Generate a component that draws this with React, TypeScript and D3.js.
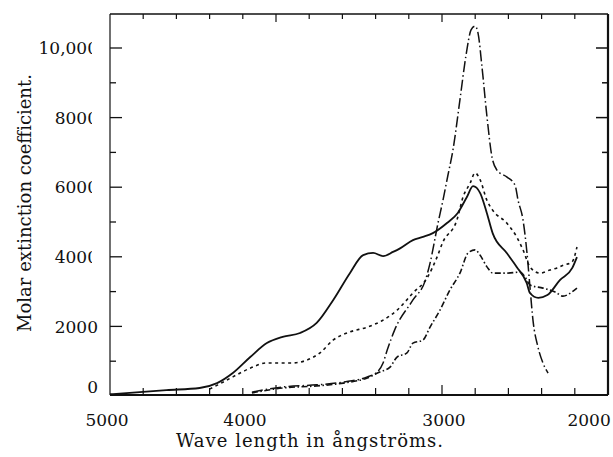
import React, { useRef, useEffect } from "react";
import * as d3 from "d3";

// [wavelength (Å), molar extinction coefficient]
const solidCurve = [
  [5000, 50], [4660, 170], [4460, 230], [4355, 370], [4260, 660], [4155, 1120],
  [4055, 1520], [3960, 1700], [3855, 1810], [3755, 2100], [3655, 2760], [3555, 3530],
  [3475, 4050], [3415, 4110], [3355, 4020], [3295, 4140], [3250, 4250], [3175, 4480],
  [3115, 4570], [3055, 4680], [2970, 4970], [2905, 5260], [2850, 5720], [2813, 6030],
  [2770, 5830], [2730, 5260], [2695, 4680], [2610, 4110], [2550, 3710], [2490, 3250],
  [2470, 2960], [2420, 2820], [2365, 2900], [2290, 3330], [2215, 3680], [2187, 3990],
];

const dottedCurve = [
  [4400, 200], [4350, 320], [4260, 550], [4155, 800], [4055, 950], [3900, 950],
  [3815, 1030], [3735, 1240], [3655, 1610], [3555, 1840], [3450, 1980], [3355, 2180],
  [3270, 2470], [3175, 2960], [3090, 3390], [3030, 3990], [2995, 4420], [2910, 5060],
  [2873, 5720], [2830, 6120], [2801, 6410], [2770, 6210], [2730, 5630], [2695, 5340],
  [2610, 4970], [2550, 4570], [2512, 4200], [2470, 3710], [2410, 3530], [2350, 3620],
  [2307, 3680], [2270, 3760], [2217, 3850], [2187, 4280],
];

const dashDotCurve = [
  [4145, 110], [3960, 260], [3755, 320], [3595, 400], [3450, 550], [3390, 690],
  [3355, 950], [3330, 1320], [3285, 1900], [3175, 2760], [3100, 3330], [3072, 3820],
  [3024, 4970], [2994, 5630], [2964, 6350], [2934, 7070], [2892, 8510], [2855, 9800],
  [2825, 10520], [2801, 10630], [2783, 10430], [2759, 9450], [2729, 8020], [2699, 6870],
  [2669, 6490], [2608, 6290], [2560, 6060], [2542, 5630], [2512, 5060], [2488, 4110],
  [2470, 3130], [2452, 2180], [2422, 1410], [2392, 950], [2361, 660],
];

const lowerCurve = [
  [4145, 90], [3960, 230], [3755, 290], [3595, 370], [3450, 520], [3375, 690],
  [3313, 830], [3271, 1120], [3211, 1240], [3175, 1520], [3114, 1610], [3072, 1980],
  [3012, 2470], [2952, 3050], [2892, 3530], [2843, 4110], [2801, 4200], [2771, 4050],
  [2729, 3710], [2693, 3530], [2608, 3530], [2530, 3560], [2500, 3420], [2470, 3190],
  [2392, 3100], [2319, 2990], [2271, 2870], [2217, 2990], [2187, 3100],
];

const xTickLabels = ["5000", "4000", "3000", "2000"];
const xLabelAt = [5018, 4187, 2988, 2114];
const yTickLabels = ["0", "2000", "4000", "6000", "8000", "10,000"];
const yLabelAt = [250, 2000, 4000, 6000, 8000, 10000];

const series = [
  { data: solidCurve, dash: null, width: 1.8 },
  { data: dottedCurve, dash: "3,3.5", width: 1.6 },
  { data: dashDotCurve, dash: "11,3,1.5,3", width: 1.5 },
  { data: lowerCurve, dash: "6,2.5,1.5,2.5", width: 1.6 },
];

const App = () => {
  const svgRef = useRef<SVGSVGElement>(null);

  useEffect(() => {
    const svg = d3.select(svgRef.current);
    svg.selectAll("*").remove();

    const width = 613;
    const height = 457;
    const left = 110, right = 608, top = 14, bottom = 395;
    const font = "'DejaVu Serif', serif";

    svg.attr("width", width).attr("height", height);

    const x = d3.scaleLinear().domain([5000, 2000]).range([left, right]);
    const y = d3.scaleLinear().domain([0, 10000]).range([396, 48]);

    // frame
    const frame = svg.append("g").attr("stroke", "#111").attr("fill", "none");
    frame.append("line").attr("x1", left).attr("x2", left).attr("y1", top).attr("y2", bottom).attr("stroke-width", 1.2);
    frame.append("line").attr("x1", left).attr("x2", right).attr("y1", top).attr("y2", top).attr("stroke-width", 1.5);
    frame.append("line").attr("x1", right).attr("x2", right).attr("y1", top).attr("y2", bottom).attr("stroke-width", 2.2);
    frame.append("line").attr("x1", left).attr("x2", right).attr("y1", bottom).attr("y2", bottom).attr("stroke-width", 2);

    // wavelength ticks every 200 Å
    const xTicks = d3.range(4800, 2000, -200);
    frame.selectAll("line.xb")
      .data(xTicks)
      .join("line")
      .attr("class", "xb")
      .attr("x1", d => x(d)).attr("x2", d => x(d))
      .attr("y1", bottom).attr("y2", d => bottom - (d % 1000 === 0 ? 10 : 7))
      .attr("stroke-width", 1.2);
    frame.selectAll("line.xt")
      .data(xTicks)
      .join("line")
      .attr("class", "xt")
      .attr("x1", d => x(d)).attr("x2", d => x(d))
      .attr("y1", top).attr("y2", d => top + (d % 1000 === 0 ? 8 : 5))
      .attr("stroke-width", 1.2);

    // extinction ticks every 1000
    const yTicks = d3.range(1000, 10001, 1000);
    frame.selectAll("line.yl")
      .data(yTicks)
      .join("line")
      .attr("class", "yl")
      .attr("x1", left).attr("x2", d => left + (d % 2000 === 0 ? 12 : 6))
      .attr("y1", d => y(d)).attr("y2", d => y(d))
      .attr("stroke-width", 1.3);
    frame.selectAll("line.yr")
      .data(yTicks)
      .join("line")
      .attr("class", "yr")
      .attr("x1", right).attr("x2", d => right - (d % 2000 === 0 ? 12 : 6))
      .attr("y1", d => y(d)).attr("y2", d => y(d))
      .attr("stroke-width", 1.5);

    // curves
    const line = d3.line<number[]>()
      .x(d => x(d[0]))
      .y(d => y(d[1]))
      .curve(d3.curveMonotoneX);

    svg.selectAll("path.curve")
      .data(series)
      .join("path")
      .attr("class", "curve")
      .attr("d", d => line(d.data))
      .attr("fill", "none")
      .attr("stroke", "#111")
      .attr("stroke-width", d => d.width)
      .attr("stroke-dasharray", d => d.dash);

    // the scan cut off the last digit of the upper labels
    const clip = svg.append("clipPath").attr("id", "ylab-clip");
    clip.append("rect").attr("x", 0).attr("y", 0).attr("width", 92).attr("height", 295);
    clip.append("rect").attr("x", 0).attr("y", 295).attr("width", 110).attr("height", 162);

    svg.append("g")
      .attr("clip-path", "url(#ylab-clip)")
      .selectAll("text")
      .data(yTickLabels)
      .join("text")
      .attr("x", 98)
      .attr("y", (d, i) => y(yLabelAt[i]))
      .attr("dy", "0.36em")
      .attr("text-anchor", "end")
      .attr("fill", "#111")
      .style("font-family", font)
      .style("font-size", "17px")
      .text(d => d);

    svg.selectAll("text.xlab")
      .data(xTickLabels)
      .join("text")
      .attr("class", "xlab")
      .attr("x", (d, i) => x(xLabelAt[i]))
      .attr("y", 426)
      .attr("text-anchor", "middle")
      .attr("fill", "#111")
      .style("font-family", font)
      .style("font-size", "17px")
      .text(d => d);

    svg.append("text")
      .attr("x", 310)
      .attr("y", 447)
      .attr("text-anchor", "middle")
      .attr("fill", "#111")
      .style("font-family", font)
      .style("font-size", "18px")
      .style("letter-spacing", "1px")
      .text("Wave length in ångströms.");

    svg.append("text")
      .attr("transform", "translate(31,203) rotate(-90)")
      .attr("text-anchor", "middle")
      .attr("fill", "#111")
      .style("font-family", font)
      .style("font-size", "18px")
      .text("Molar extinction coefficient.");
  }, []);

  return (
    <svg
      ref={svgRef}
      style={{ position: "absolute", left: 0, top: 0, display: "block", background: "#fff" }}
    />
  );
};

export default App;
